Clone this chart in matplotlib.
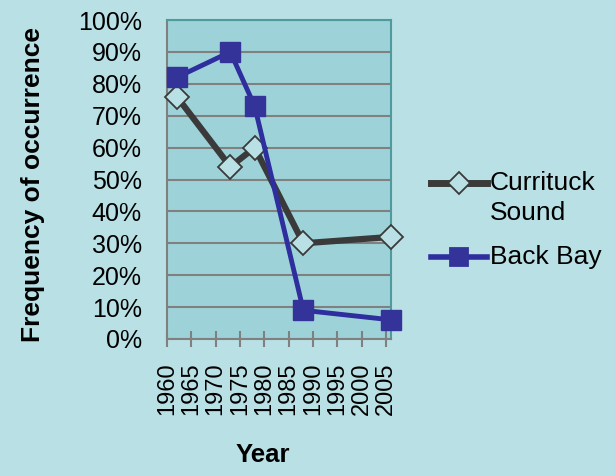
import matplotlib.pyplot as plt
from matplotlib.lines import Line2D
from matplotlib.ticker import PercentFormatter

plt.rcParams['font.family'] = ['Liberation Sans', 'DejaVu Sans']

years_currituck = [1962, 1973, 1978, 1988, 2006]
currituck = [76, 54, 60, 30, 32]
years_backbay = [1962, 1973, 1978, 1988, 2006]
backbay = [82, 90, 73, 9, 6]
tick_years = list(range(1960, 2006, 5))

bg = '#b9e1e5'
dark = '#3a3a3a'
blue_line = '#2e2e9e'
blue_mark = '#333399'

fig = plt.figure(figsize=(6.15, 4.76), dpi=100, facecolor=bg)
ax = fig.add_axes([167 / 615, 1 - 339 / 476, 224 / 615, 319 / 476])
ax.set_facecolor('#9dd3d8')

ax.plot(years_currituck, currituck, color=dark, lw=4.5, marker='D',
        ms=12.5, mfc=bg, mec=dark, mew=1.3, zorder=3, clip_on=False)
ax.plot(years_backbay, backbay, color=blue_line, lw=3.5, marker='s',
        ms=14, mfc=blue_mark, mec=blue_mark, zorder=4, clip_on=False)

ax.set_ylim(0, 100)
ax.set_xlim(1960, 2006)
ax.set_yticks(range(0, 101, 10))
ax.yaxis.set_major_formatter(PercentFormatter(decimals=0))
ax.set_xticks(tick_years)
ax.set_xticklabels([str(y) for y in tick_years], rotation=90)
ax.grid(axis='y', color='#808080', lw=1.5)
ax.set_axisbelow(True)

for s in ['top', 'right']:
    ax.spines[s].set_color('#4f9a9c')
    ax.spines[s].set_linewidth(1.5)
for s in ['left', 'bottom']:
    ax.spines[s].set_color('#808080')
    ax.spines[s].set_linewidth(1.5)

ax.tick_params(axis='x', direction='inout', length=12, width=1.5, color='#808080',
               labelsize=17, pad=11)
ax.tick_params(axis='y', length=0, labelsize=18, pad=18)

fig.text(33 / 615, 1 - 184.5 / 476, 'Frequency of occurrence', rotation=90,
         ha='center', va='center', fontsize=19, fontweight='bold')
fig.text(263 / 615, 1 - 455 / 476, 'Year', ha='center', va='center',
         fontsize=18.5, fontweight='bold')

# legend drawn by hand so the Currituck handle sits on its first text line
x0, x1 = 431 / 615, 487 / 615
xm = (x0 + x1) / 2
for y_px, color, lw, marker, ms, mfc in [
        (183, dark, 5, 'D', 11, bg), (257, blue_line, 4, 's', 12.5, blue_mark)]:
    y = 1 - y_px / 476
    fig.add_artist(Line2D([x0, xm, x1], [y, y, y], color=color, lw=lw,
                          marker=marker, markevery=[1], ms=ms, mfc=mfc,
                          mec=dark if marker == 'D' else blue_mark, mew=1.3))
fig.text(490 / 615, 1 - 183 / 476, 'Currituck', fontsize=19, va='center')
fig.text(490 / 615, 1 - 213 / 476, 'Sound', fontsize=19, va='center')
fig.text(490 / 615, 1 - 257 / 476, 'Back Bay', fontsize=19, va='center')

fig.savefig('out.png', dpi=100, facecolor=bg)
